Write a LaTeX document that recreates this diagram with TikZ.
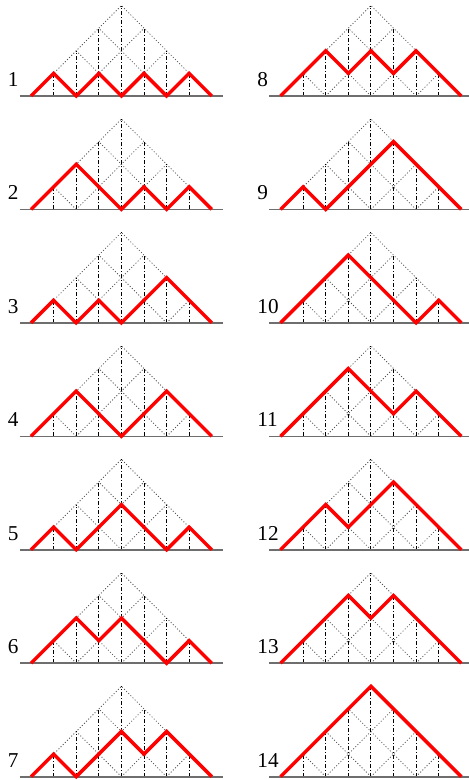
\documentclass[tikz,border=0pt]{standalone}
\usepackage{fontspec}
\setmainfont{Liberation Serif}
\usepackage{xcolor}
\definecolor{pathcolor}{RGB}{255,0,0}
\definecolor{axiscolor}{RGB}{110,110,110}
\definecolor{gridcolor}{RGB}{80,80,80}

% #1 number, #2 column, #3 row, #4 heights after each step
\newcommand\dyckpanel[4]{%
    \begin{scope}[shift={(15.5pt+124.75pt*#2,342pt-56.725pt*#3)}, x=11.3pt, y=11.3pt]
        % Panel number
        \node[panellabel] (lbl-#1) at (-1.04,0.42) {#1};
        % Dotted lattice
        \foreach \k in {0,1,2,3} {
            \draw[gridline] (2*\k,0) -- (4+\k,4-\k);
            \draw[gridline] (8-2*\k,0) -- (4-\k,4-\k);
        }
        % Dash-dot stems
        \foreach \i/\t in {1/1,2/2,3/3,4/4,5/3,6/2,7/1}
            \draw[stemline] (\i,0) -- (\i,\t);
        % Base line
        \draw[axisline] (-0.5,0) -- (8.5,0);
        % The path
        \draw[dyckpath] (0,0) foreach \h [count=\s] in {#4} { -- (\s,\h) };
    \end{scope}
}

\begin{document}
\begin{tikzpicture}[
    every node/.style={font=\fontsize{10.6}{12}\selectfont},
    gridline/.style={gridcolor, line width=0.4pt, dash pattern=on 0.5pt off 1pt},
    stemline/.style={black, line width=0.45pt, dash pattern=on 2pt off 1pt on 0.5pt off 1pt},
    axisline/.style={axiscolor, line width=0.8pt},
    dyckpath/.style={pathcolor, line width=1.7pt, line join=miter},
    panellabel/.style={anchor=base west, inner sep=0pt}
]

% Page frame
\useasboundingbox (0pt,0pt) rectangle (234.5pt,390pt);

% Left column
\dyckpanel{1}{0}{0}{1,0,1,0,1,0,1,0}
\dyckpanel{2}{0}{1}{1,2,1,0,1,0,1,0}
\dyckpanel{3}{0}{2}{1,0,1,0,1,2,1,0}
\dyckpanel{4}{0}{3}{1,2,1,0,1,2,1,0}
\dyckpanel{5}{0}{4}{1,0,1,2,1,0,1,0}
\dyckpanel{6}{0}{5}{1,2,1,2,1,0,1,0}
\dyckpanel{7}{0}{6}{1,0,1,2,1,2,1,0}

% Right column
\dyckpanel{8}{1}{0}{1,2,1,2,1,2,1,0}
\dyckpanel{9}{1}{1}{1,0,1,2,3,2,1,0}
\dyckpanel{10}{1}{2}{1,2,3,2,1,0,1,0}
\dyckpanel{11}{1}{3}{1,2,3,2,1,2,1,0}
\dyckpanel{12}{1}{4}{1,2,1,2,3,2,1,0}
\dyckpanel{13}{1}{5}{1,2,3,2,3,2,1,0}
\dyckpanel{14}{1}{6}{1,2,3,4,3,2,1,0}

\end{tikzpicture}
\end{document}
